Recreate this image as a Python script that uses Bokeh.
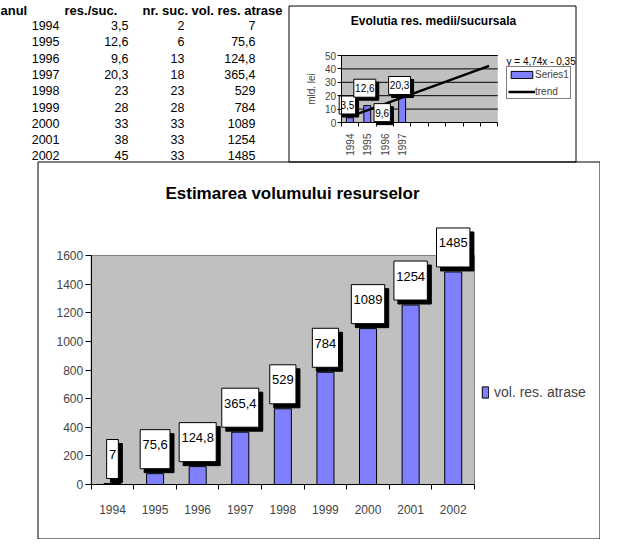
import math
from bokeh.plotting import figure
from bokeh.models import (Range1d, FixedTicker, LinearAxis, Legend, LegendItem)
from bokeh.embed import file_html
from bokeh.resources import INLINE
from bokeh.core.properties import value

# ---------------- data ----------------
years = ["1994", "1995", "1996", "1997", "1998", "1999", "2000", "2001", "2002"]
res_suc = [3.5, 12.6, 9.6, 20.3, 23, 28, 33, 38, 45]
nr_suc = [2, 6, 13, 18, 23, 28, 33, 33, 33]
vol_res = [7, 75.6, 124.8, 365.4, 529, 784, 1089, 1254, 1485]
table_headers = ["anul", "res./suc.", "nr. suc.", "vol. res. atrase"]

small_title = "Evolutia res. medii/sucursala"
small_years = ["1994", "1995", "1996", "1997"]
small_values = [3.5, 12.6, 9.6, 20.3]
trend_years = ["1994", "2002"]
trend_values = [4.4, 42.3]
trend_label = "y = 4,74x - 0,35"
small_y_ticks = [0, 10, 20, 30, 40, 50]

big_title = "Estimarea volumului resurselor"
big_y_ticks = [0, 200, 400, 600, 800, 1000, 1200, 1400, 1600]

# ---------------- styles / layout (pixels) ----------------
FONT = "Liberation Sans"
BAR = "#8080FF"
GRAY = "#C0C0C0"
W, H = 600, 539

# small chart plot area
S_X0, S_CAT = 340.7, 17.4          # left edge px, px per category
S_Y0, S_PPU = 122.0, 67.0 / 50.0   # zero line px, px per unit
# big chart plot area
B_X0, B_CAT = 90.7, 42.59
B_Y0, B_PPU = 484.0, 229.0 / 1600.0


def ro(v):
    return f"{v:g}".replace(".", ",")


def text_px(s, size):
    return sum(0.278 if ch in ",." else 0.556 for ch in s) * size


def xr(x0, ppu):
    return Range1d((0 - x0) / ppu, (W - x0) / ppu)


def yr(y0, ppu):
    return Range1d((y0 - H) / ppu, y0 / ppu)


p = figure(width=W, height=H, x_range=Range1d(0, W), y_range=Range1d(H, 0),
           x_axis_type=None, y_axis_type=None, min_border=0,
           output_backend="svg", toolbar_location=None)
p.outline_line_color = None
p.background_fill_color = "white"
p.border_fill_color = "white"
p.extra_x_ranges = {"sx": xr(S_X0, S_CAT), "bx": xr(B_X0, B_CAT)}
p.extra_y_ranges = {"sy": yr(S_Y0, S_PPU), "by": yr(B_Y0, B_PPU)}
S = dict(x_range_name="sx", y_range_name="sy")
B = dict(x_range_name="bx", y_range_name="by")

# ---------------- table ----------------
head_x = [0, 64, 142, 191]
p.text(x=head_x, y=[9.5] * 4, text=table_headers, text_font=value(FONT),
       text_font_style="bold", text_font_size="13px", text_baseline="middle",
       text_align="left", text_color="black")
col_right = [59, 128, 184, 255]
row_y = [25 + 16.3 * i for i in range(len(years))]
columns = [years, [ro(v) for v in res_suc], [ro(v) for v in nr_suc],
           [ro(v) for v in vol_res]]
for xpos, col in zip(col_right, columns):
    p.text(x=[xpos] * len(col), y=row_y, text=col, text_font=value(FONT),
           text_font_size="12.5px", text_baseline="middle", text_align="right",
           text_color="black")

# ---------------- chart frames ----------------
p.quad(left=[288.5], right=[575.5], top=[5.5], bottom=[161.5], fill_color=None,
       line_color="black", line_width=1)
p.quad(left=[37.5], right=[599.5], top=[161.5], bottom=[538.5], fill_color=None,
       line_color="black", line_width=1)

# ---------------- small chart ----------------
n = len(years)
p.quad(left=[0], right=[n], bottom=[small_y_ticks[0]], top=[small_y_ticks[-1]],
       fill_color=GRAY, line_color=None, **S)
p.segment(x0=[0] * (len(small_y_ticks) - 1), x1=[n] * (len(small_y_ticks) - 1),
          y0=small_y_ticks[1:], y1=small_y_ticks[1:], line_color="black",
          line_width=1, **S)
s_x = [years.index(y) + 0.5 for y in small_years]
s_bars = p.vbar(x=s_x, top=small_values, width=0.4, fill_color=BAR,
                line_color="black", line_width=1, **S)
t_x = [years.index(y) + 0.5 for y in trend_years]
s_trend = p.line(x=t_x, y=trend_values, line_color="black", line_width=2.5, **S)

s_lift = [12.8, 17.4, -3.0, 9.8]     # px from bar top to label-box centre
s_box_h, s_shadow = 18, 3
s_labels = [ro(v) for v in small_values]
s_w = [text_px(t, 10) + 2.5 for t in s_labels]
s_cy = [v + l / S_PPU for v, l in zip(small_values, s_lift)]
s_cx = [x - 2.5 / S_CAT for x in s_x]
p.rect(x=[x + s_shadow / S_CAT for x in s_cx], y=[y - s_shadow / S_PPU for y in s_cy],
       width=s_w, height=s_box_h, width_units="screen", height_units="screen",
       fill_color="black", line_color="black", **S)
p.rect(x=s_cx, y=s_cy, width=s_w, height=s_box_h, width_units="screen",
       height_units="screen", fill_color="white", line_color="black", line_width=1, **S)
p.text(x=s_cx, y=s_cy, text=s_labels, text_font=value(FONT), text_font_size="10px",
       text_align="center", text_baseline="middle", text_color="black", **S)

s_yax = LinearAxis(ticker=FixedTicker(ticks=small_y_ticks), bounds=(0, 50),
                   fixed_location=0, axis_label="mld. lei", axis_label_text_font=FONT,
                   axis_label_text_font_size="10px", axis_label_text_font_style="normal",
                   axis_label_standoff=5,
                   major_label_text_font=FONT, major_label_text_font_size="10px",
                   major_tick_in=0, major_tick_out=4, minor_tick_out=0, minor_tick_in=0,
                   major_label_standoff=1, axis_line_color="black",
                   major_tick_line_color="black", **S)
p.add_layout(s_yax, "left")
s_xax = LinearAxis(ticker=FixedTicker(ticks=s_x, minor_ticks=list(range(n + 1))),
                   bounds=(0, n), fixed_location=0,
                   major_label_overrides={x: y for x, y in zip(s_x, small_years)},
                   major_label_orientation=math.pi / 2,
                   major_label_text_font=FONT, major_label_text_font_size="10px",
                   major_tick_in=0, major_tick_out=0, minor_tick_in=0, minor_tick_out=4,
                   major_label_standoff=7, axis_line_color="black",
                   minor_tick_line_color="black", **S)
p.add_layout(s_xax, "below")

p.add_layout(Legend(items=[LegendItem(label="Series1", renderers=[s_bars]),
                           LegendItem(label="trend", renderers=[s_trend])],
                    location=(506, H - 99), orientation="vertical",
                    glyph_width=27, glyph_height=9, label_height=12, label_width=20,
                    label_standoff=0, spacing=5, padding=1, margin=0,
                    border_line_color="black", border_line_width=1,
                    background_fill_color="white", background_fill_alpha=1,
                    label_text_font=FONT, label_text_font_size="10px"))
p.text(x=[506], y=[61], text=[trend_label], text_font=value(FONT), text_font_size="10px",
       text_baseline="middle", text_align="left", text_color="black")
p.text(x=[433], y=[20], text=[small_title], text_font=value(FONT), text_font_size="12px",
       text_font_style="bold", text_baseline="middle", text_align="center",
       text_color="black")

# ---------------- big chart ----------------
p.quad(left=[0], right=[n], bottom=[big_y_ticks[0]], top=[big_y_ticks[-1]],
       fill_color=GRAY, line_color="#808080", line_width=1, **B)
b_x = [i + 0.5 for i in range(n)]
b_bars = p.vbar(x=b_x, top=vol_res, width=0.4, fill_color=BAR, line_color="black",
                line_width=1, **B)

b_box_h, b_shadow, b_gap = 39, 4, 5
b_labels = [ro(v) for v in vol_res]
b_w = [text_px(t, 13) + 4.5 for t in b_labels]
b_cy = [v + (b_gap + b_box_h / 2) / B_PPU for v in vol_res]
b_ty = [v + (b_gap + b_box_h - 15) / B_PPU for v in vol_res]
p.rect(x=[x + b_shadow / B_CAT for x in b_x], y=[y - b_shadow / B_PPU for y in b_cy],
       width=b_w, height=b_box_h, width_units="screen", height_units="screen",
       fill_color="black", line_color="black", **B)
p.rect(x=b_x, y=b_cy, width=b_w, height=b_box_h, width_units="screen",
       height_units="screen", fill_color="white", line_color="black", line_width=1, **B)
p.text(x=b_x, y=b_ty, text=b_labels, text_font=value(FONT), text_font_size="13px",
       text_align="center", text_baseline="middle", text_color="black", **B)

b_yax = LinearAxis(ticker=FixedTicker(ticks=big_y_ticks), bounds=(0, 1600),
                   fixed_location=0,
                   major_label_text_font=FONT, major_label_text_font_size="12px",
                   major_tick_in=0, major_tick_out=6, minor_tick_out=0, minor_tick_in=0,
                   major_label_standoff=2, axis_line_color="black",
                   major_tick_line_color="black", **B)
p.add_layout(b_yax, "left")
b_xax = LinearAxis(ticker=FixedTicker(ticks=b_x, minor_ticks=list(range(n + 1))),
                   bounds=(0, n), fixed_location=0,
                   major_label_overrides={x: y for x, y in zip(b_x, years)},
                   major_label_text_font=FONT, major_label_text_font_size="12px",
                   major_tick_in=0, major_tick_out=0, minor_tick_in=0, minor_tick_out=5,
                   major_label_standoff=15, axis_line_color="black",
                   minor_tick_line_color="black", **B)
p.add_layout(b_xax, "below")

p.add_layout(Legend(items=[LegendItem(label="vol. res. atrase", renderers=[b_bars])],
                    location=(481, H - 400), glyph_width=8, glyph_height=14,
                    label_height=14, label_standoff=5, padding=0, margin=0,
                    border_line_color=None, background_fill_alpha=0,
                    label_text_font=FONT, label_text_font_size="14px"))
p.text(x=[292], y=[193], text=[big_title], text_font=value(FONT), text_font_size="17px",
       text_font_style="bold", text_baseline="middle", text_align="center",
       text_color="black")

open("out.html", "w").write(file_html(p, INLINE))
